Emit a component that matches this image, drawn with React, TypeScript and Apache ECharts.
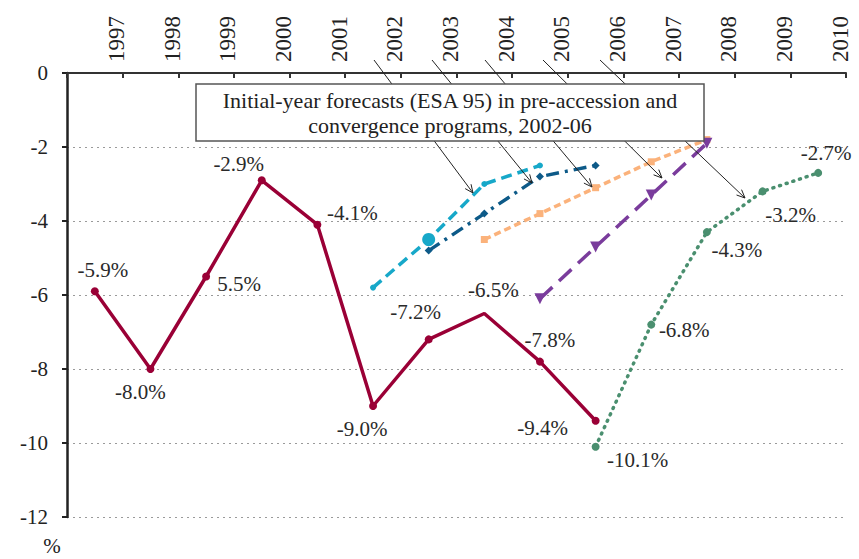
import React, { useEffect, useRef } from "react";
import * as echarts from "echarts";

// ---- data ----
const years = ["1997", "1998", "1999", "2000", "2001", "2002", "2003", "2004", "2005", "2006", "2007", "2008", "2009", "2010"];
const yTicks = [0, -2, -4, -6, -8, -10, -12];

const actualStart = "1997";
const actualValues = [-5.9, -8.0, -5.5, -2.9, -4.1, -9.0, -7.2, -6.5, -7.8, -9.4];
const actualLabels = ["-5.9%", "-8.0%", "5.5%", "-2.9%", "-4.1%", "-9.0%", "-7.2%", "-6.5%", "-7.8%", "-9.4%"];

const prog2002Start = "2002";
const prog2002Values = [-5.8, -4.5, -3.0, -2.5];

const prog2003Start = "2003";
const prog2003Values = [-4.8, -3.8, -2.8, -2.5];

const prog2004Start = "2004";
const prog2004Values = [-4.5, -3.8, -3.1, -2.4, -1.8];

const prog2005Start = "2005";
const prog2005Values = [-6.1, -4.7, -3.3, -1.9];

const prog2006Start = "2006";
const prog2006Values = [-10.1, -6.8, -4.3, -3.2, -2.7];
const prog2006Labels = ["-10.1%", "-6.8%", "-4.3%", "-3.2%", "-2.7%"];

const boxLines = ["Initial-year forecasts (ESA 95) in pre-accession and", "convergence programs, 2002-06"];
const unitLabel = "%";

// ---- styling (positions/offsets of labels & annotations) ----
const FONT = "Liberation Serif";
const actualLabelOffsets = [[8, -21], [-10, 23], [33, 7], [-23, -16], [35, -12], [-11, 23], [-13, -27], [9, -24], [10, -22], [-53, 7]];
const prog2006LabelOffsets = [[42, 13], [33, 5], [30, 18], [28, 24], [8, -20]];
const actualHiddenMarkerYear = "2004";
const prog2002BigMarkerYear = "2003";

const arrows = [
  { from: [374, 60], to: [473, 193] },
  { from: [432, 60], to: [532, 183] },
  { from: [485, 60], to: [592, 187] },
  { from: [543, 60], to: [662, 178] },
  { from: [600, 60], to: [745, 198] },
];

const toXY = (start: string, values: number[]) => {
  const s = years.indexOf(start);
  return values.map((v, i) => [s + i + 0.5, v]);
};

function arrowHead(from: number[], to: number[], len = 9, spread = 0.42) {
  const ang = Math.atan2(to[1] - from[1], to[0] - from[0]);
  const a1 = ang + Math.PI - spread;
  const a2 = ang + Math.PI + spread;
  return [
    [to[0] + len * Math.cos(a1), to[1] + len * Math.sin(a1)],
    [to[0], to[1]],
    [to[0] + len * Math.cos(a2), to[1] + len * Math.sin(a2)],
  ];
}

export default function App() {
  const ref = useRef<HTMLDivElement>(null);

  useEffect(() => {
    if (!ref.current) return;
    const chart = echarts.init(ref.current, undefined, { renderer: "svg" });

    const labelBase = { fontFamily: FONT, fontSize: 21, color: "#2a2a2a" };

    const actualData = toXY(actualStart, actualValues).map((p, i) => {
      const yr = years[years.indexOf(actualStart) + i];
      return {
        value: p,
        symbolSize: yr === actualHiddenMarkerYear ? 0 : 8,
        label: { offset: actualLabelOffsets[i] },
      };
    });

    const p2006Data = toXY(prog2006Start, prog2006Values).map((p, i) => ({
      value: p,
      label: { offset: prog2006LabelOffsets[i] },
    }));

    const p2002Data = toXY(prog2002Start, prog2002Values).map((p, i) => {
      const yr = years[years.indexOf(prog2002Start) + i];
      return { value: p, symbolSize: yr === prog2002BigMarkerYear ? 13 : 6 };
    });

    chart.setOption({
      animation: false,
      backgroundColor: "#fff",
      textStyle: { fontFamily: FONT },
      grid: { left: 67, right: 13, top: 73, bottom: 42, containLabel: false },
      xAxis: {
        type: "value",
        position: "top",
        min: 0,
        max: years.length,
        interval: 1,
        axisLine: { show: true, onZero: false, lineStyle: { color: "#333", width: 2 } },
        axisTick: { show: true, inside: true, length: 5, lineStyle: { color: "#333", width: 2 } },
        splitLine: { show: false },
        axisLabel: { show: false },
      },
      yAxis: {
        type: "value",
        min: yTicks[yTicks.length - 1],
        max: yTicks[0],
        interval: 2,
        axisLine: { show: true, onZero: false, lineStyle: { color: "#222", width: 2.5 } },
        axisTick: { show: true, inside: false, length: 5, lineStyle: { color: "#222", width: 2 } },
        splitLine: { show: true, lineStyle: { color: "#9a9a9a", width: 1, type: [2, 4] } },
        axisLabel: { margin: 19, fontFamily: FONT, fontSize: 21, color: "#222" },
      },
      series: [
        {
          type: "line",
          data: actualData,
          symbol: "circle",
          color: "#9a0036",
          lineStyle: { color: "#9a0036", width: 3.5 },
          itemStyle: { color: "#9a0036" },
          label: {
            show: true,
            position: "inside",
            ...labelBase,
            formatter: (p: any) => actualLabels[p.dataIndex],
          },
          z: 4,
        },
        {
          type: "line",
          data: p2006Data,
          symbol: "circle",
          symbolSize: 8,
          lineStyle: { color: "#4a8f6f", width: 3.5, type: [1, 6], cap: "round" },
          itemStyle: { color: "#4a8f6f" },
          label: {
            show: true,
            position: "inside",
            ...labelBase,
            formatter: (p: any) => prog2006Labels[p.dataIndex],
          },
          z: 3,
        },
        {
          type: "line",
          data: p2002Data,
          symbol: "circle",
          lineStyle: { color: "#17a8c9", width: 3.5, type: [11, 6] },
          itemStyle: { color: "#17a8c9" },
          z: 3,
        },
        {
          type: "line",
          data: toXY(prog2003Start, prog2003Values),
          symbol: "diamond",
          symbolSize: 8,
          lineStyle: { color: "#0d5a88", width: 3.5, type: [13, 6, 3, 6] },
          itemStyle: { color: "#0d5a88" },
          z: 3,
        },
        {
          type: "line",
          data: toXY(prog2004Start, prog2004Values),
          symbol: "rect",
          symbolSize: 7,
          lineStyle: { color: "#fbb27b", width: 3.5, type: [7, 4] },
          itemStyle: { color: "#fbb27b" },
          z: 3,
        },
        {
          type: "line",
          data: toXY(prog2005Start, prog2005Values),
          symbol: "triangle",
          symbolSize: 11,
          symbolRotate: 180,
          lineStyle: { color: "#7a3c9c", width: 3.5, type: [17, 9] },
          itemStyle: { color: "#7a3c9c" },
          z: 3,
        },
      ],
    });

    const graphics: any[] = [];
    // year tick labels, placed at the axis ticks through the axis scale
    years.forEach((yr, i) => {
      const px = chart.convertToPixel({ xAxisIndex: 0 }, i + 1) as number;
      graphics.push({
        type: "text",
        z: 12,
        x: px - 6,
        y: 62,
        rotation: Math.PI / 2,
        style: { text: yr, fill: "#222", fontFamily: FONT, fontSize: 23, align: "left", verticalAlign: "middle" },
      });
    });
    arrows.forEach((a) => {
      graphics.push({
        type: "line",
        z: 10,
        shape: { x1: a.from[0], y1: a.from[1], x2: a.to[0], y2: a.to[1] },
        style: { stroke: "#222", lineWidth: 1 },
      });
      graphics.push({
        type: "polyline",
        z: 10,
        shape: { points: arrowHead(a.from, a.to) },
        style: { stroke: "#222", lineWidth: 1, fill: "none" },
      });
    });
    graphics.push({
      type: "rect",
      z: 11,
      shape: { x: 196, y: 84, width: 508, height: 57 },
      style: { fill: "#fff", stroke: "#555", lineWidth: 1.5 },
    });
    boxLines.forEach((t, i) => {
      graphics.push({
        type: "text",
        z: 12,
        x: 450,
        y: 100 + i * 25,
        style: { text: t, fill: "#222", fontFamily: FONT, fontSize: 22, align: "center", verticalAlign: "middle" },
      });
    });
    graphics.push({
      type: "text",
      z: 12,
      x: 52,
      y: 546,
      style: { text: unitLabel, fill: "#222", fontFamily: FONT, fontSize: 21, align: "center", verticalAlign: "middle" },
    });
    chart.setOption({ graphic: graphics });

    return () => chart.dispose();
  }, []);

  return <div ref={ref} style={{ position: "absolute", left: 0, top: 0, width: 859, height: 559 }} />;
}
